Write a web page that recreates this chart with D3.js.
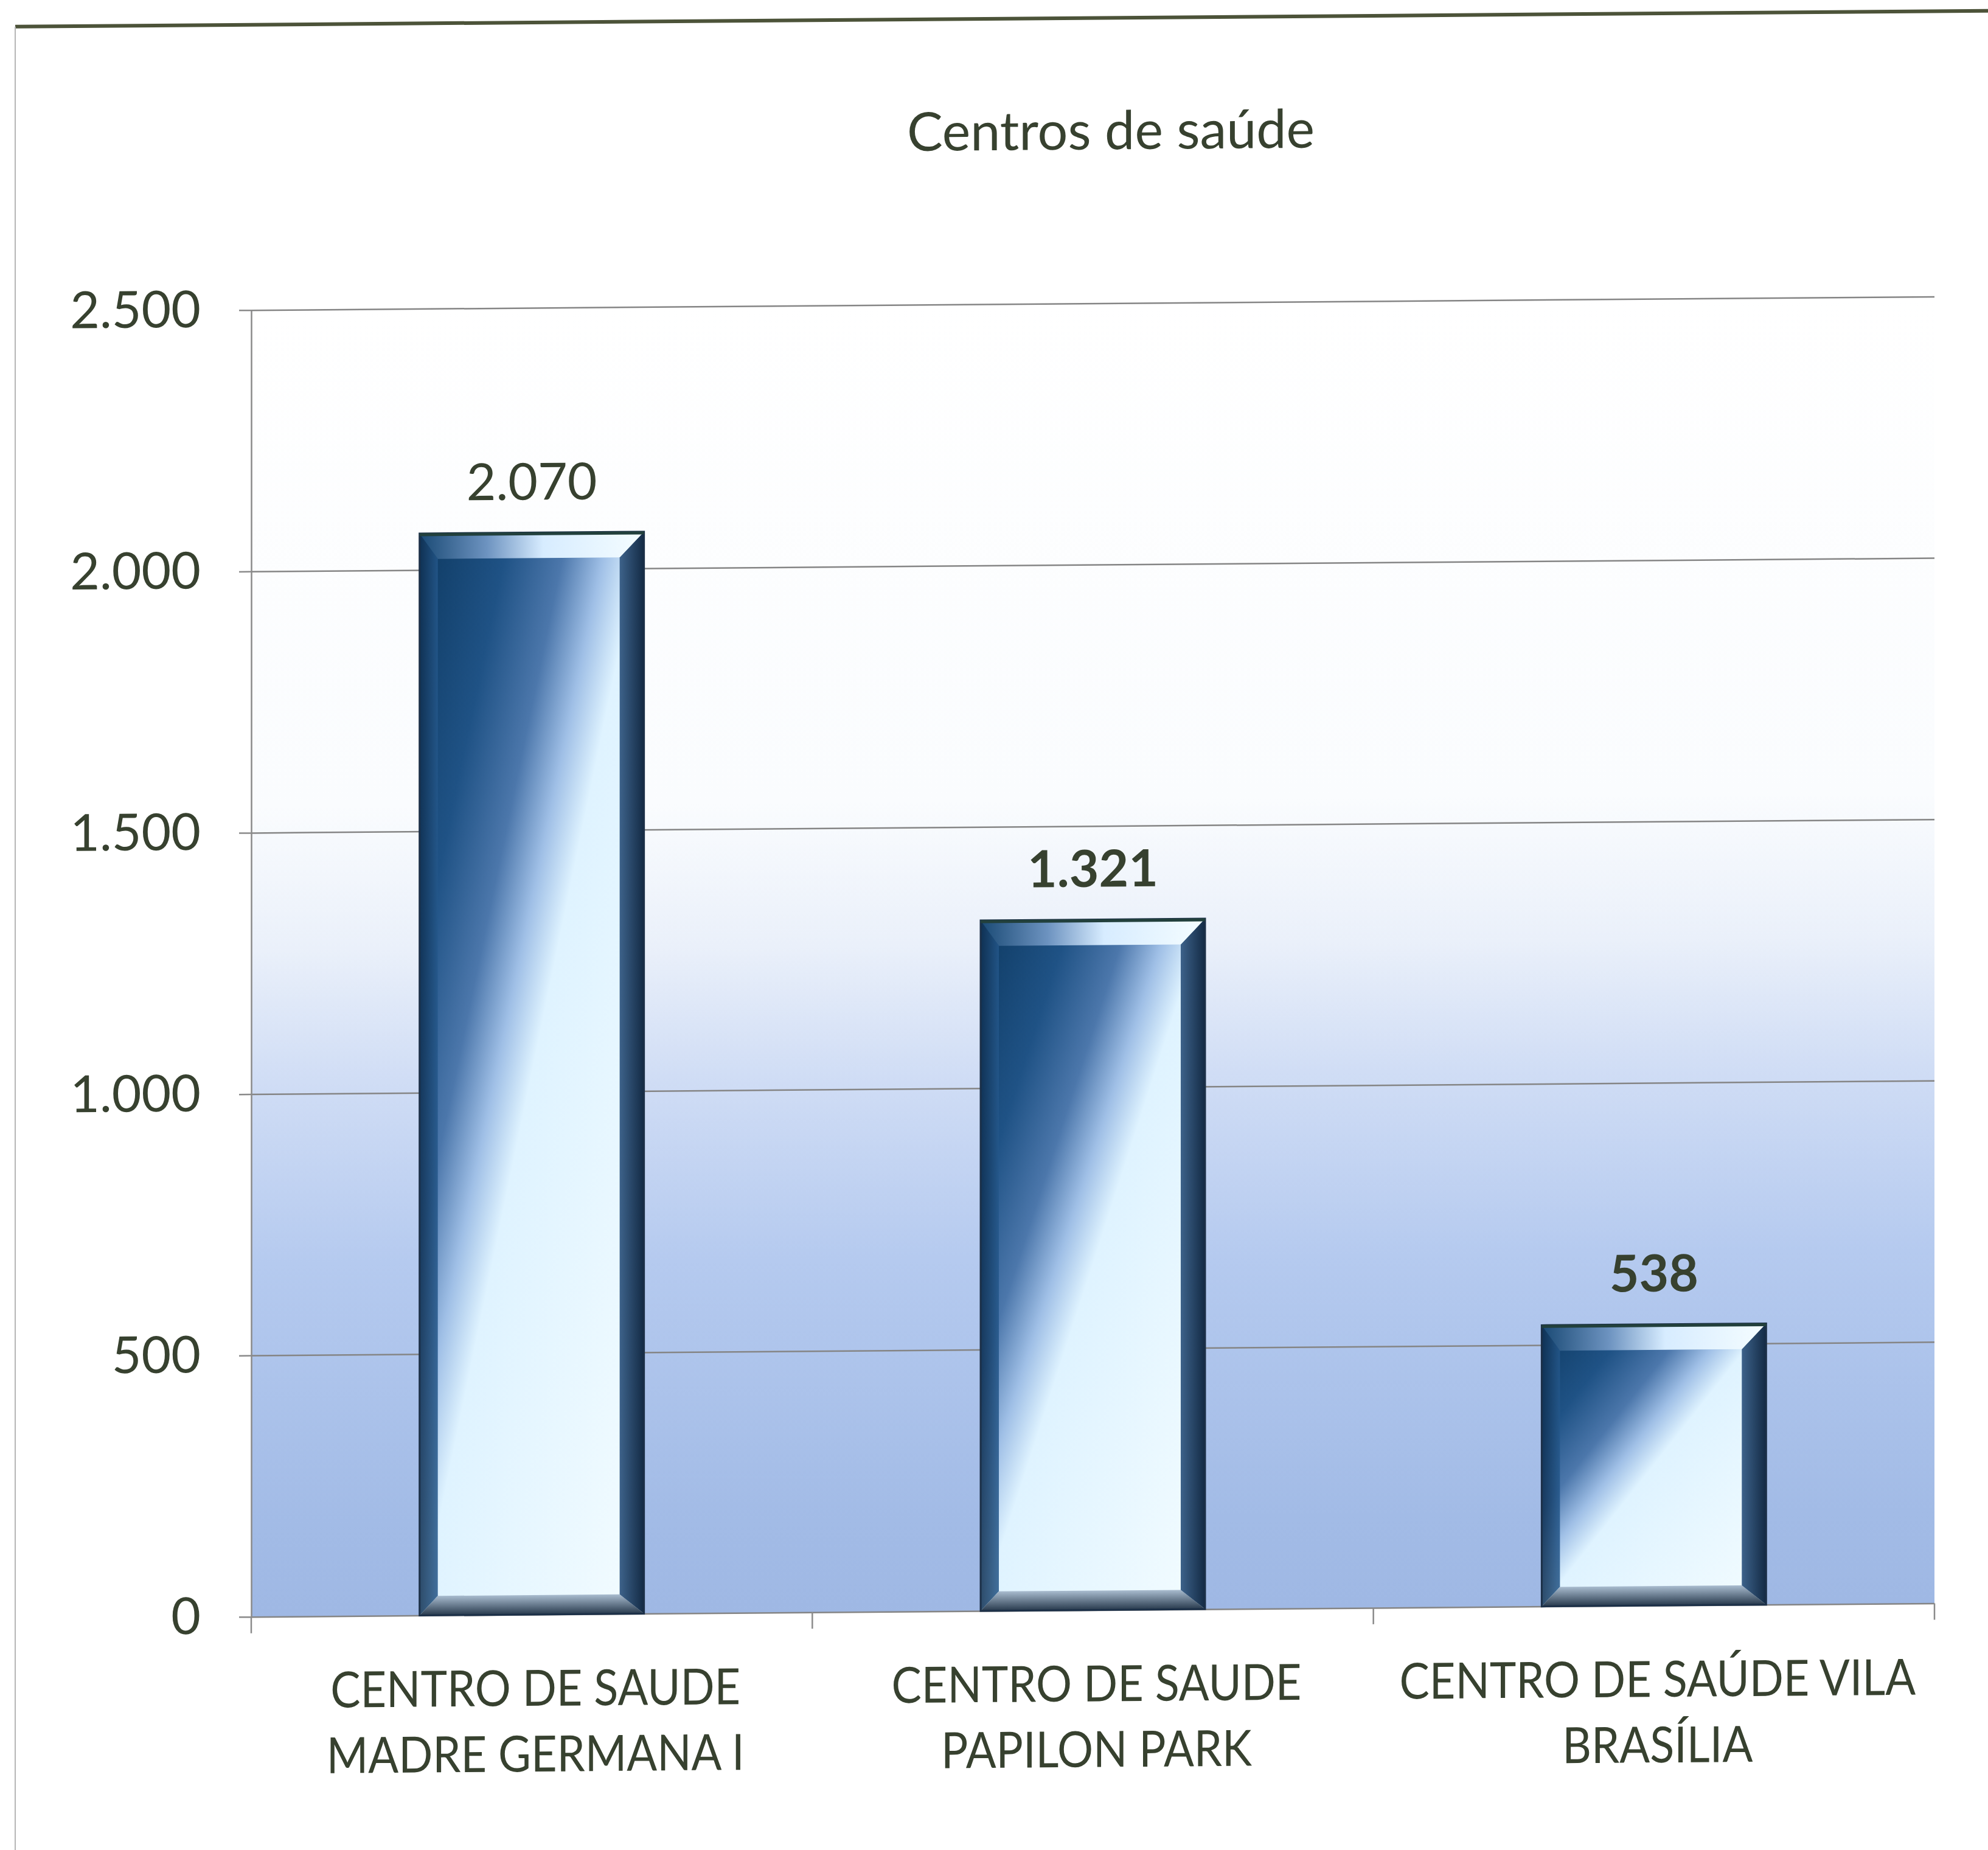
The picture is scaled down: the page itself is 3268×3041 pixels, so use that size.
<!DOCTYPE html>
<html>
<head>
    <meta charset="utf-8">
    <title>Centros de saúde</title>
    <script src="https://d3js.org/d3.v7.min.js"></script>
    <style>
        body { margin: 0; background: #fff; }
        text { font-family: Lato, "Open Sans", sans-serif; fill: #37412f; }
        .title { font-size: 88px; }
        .tick text { font-size: 84px; fill: #37412f; }
        .cat { font-size: 82px; }
        .val { font-size: 84px; }
    </style>
</head>
<body>
<script>
    // data
    var categories = [
        ["CENTRO DE SAUDE", "MADRE GERMANA I"],
        ["CENTRO DE SAUDE", "PAPILON PARK"],
        ["CENTRO DE SAÚDE VILA", "BRASÍLIA"]
    ];
    var values = [2070, 1321, 538];
    var yTicks = [0, 500, 1000, 1500, 2000, 2500];
    var labelWeights = ["normal", "bold", "bold"];

    var width = 3268, height = 3041;
    var plotLeft = 413, plotRight = 3180, plotTop = 500, plotBottom = 2648;

    var locale = d3.formatLocale({decimal: ",", thousands: ".", grouping: [3], currency: ["R$", ""]});
    var fmt = locale.format(",d");

    var svg = d3.select("body").append("svg")
        .attr("width", width).attr("height", height)
        .style("display", "block").style("background", "#fff");

    var defs = svg.append("defs");
    function grad(id, x1, y1, x2, y2, stops) {
        var g = defs.append("linearGradient").attr("id", id)
            .attr("x1", x1).attr("y1", y1).attr("x2", x2).attr("y2", y2);
        stops.forEach(function(s) {
            g.append("stop").attr("offset", s[0]).attr("stop-color", s[1]);
        });
    }
    grad("bgGrad", 0, 0, 0, 1, [[0, "#ffffff"], [0.38, "#fafcfe"], [0.49, "#eaf0fa"], [0.59, "#d0ddf5"], [0.73, "#b5caef"], [0.93, "#a2bbe6"], [1, "#9fb8e4"]]);
    grad("barGrad", 0, 0, 1, 1, [[0, "#0e3a62"], [0.2, "#1f5285"], [0.33, "#4c77ab"], [0.42, "#9fbfe6"], [0.5, "#dff3ff"], [1, "#f3fcff"]]);
    grad("topBevel", 0, 0, 1, 0, [[0, "#1a4a75"], [0.3, "#6d93c0"], [0.55, "#d7ecff"], [1, "#f5fdff"]]);
    grad("rightBevel", 1, 0, 0, 0, [[0, "#132a44"], [1, "#3d628a"]]);
    grad("bottomBevel", 0, 0, 0, 1, [[0, "#a9bccf"], [1, "#27394c"]]);
    grad("leftBevel", 0, 0, 1, 0, [[0, "#0f2f50"], [1, "#24578a"]]);

    // the scan is slightly skewed
    var chart = svg.append("g").attr("transform", "translate(0,13) skewY(-0.46)");

    // chart area border
    chart.append("line").attr("x1", 25).attr("x2", width + 40).attr("y1", 31).attr("y2", 31)
        .attr("stroke", "#4c5339").attr("stroke-width", 6);
    chart.append("line").attr("x1", 25).attr("x2", 25).attr("y1", 31).attr("y2", height + 40)
        .attr("stroke", "#b5b5b5").attr("stroke-width", 2);

    var x = d3.scaleBand().domain(d3.range(values.length)).range([plotLeft, plotRight])
        .paddingInner(0.6).paddingOuter(0.3);
    var y = d3.scaleLinear().domain([0, 2500]).range([plotBottom, plotTop]);

    // plot area fill
    chart.append("rect").attr("x", plotLeft).attr("y", plotTop)
        .attr("width", plotRight - plotLeft).attr("height", plotBottom - plotTop)
        .attr("fill", "url(#bgGrad)");

    // gridlines
    var grid = chart.append("g").attr("transform", "translate(" + plotLeft + ",0)")
        .call(d3.axisLeft(y).tickValues(yTicks).tickSize(-(plotRight - plotLeft)).tickFormat(""));
    grid.select(".domain").remove();
    grid.selectAll("line").attr("stroke", "#858585").attr("stroke-width", 2.5);

    // value axis
    var yAxis = chart.append("g").attr("transform", "translate(" + plotLeft + ",0)")
        .call(d3.axisLeft(y).tickValues(yTicks).tickSizeInner(20).tickSizeOuter(0)
            .tickPadding(63).tickFormat(fmt));
    yAxis.select(".domain").attr("stroke", "#8a8a8a").attr("stroke-width", 2.5);
    yAxis.selectAll(".tick line").attr("stroke", "#8a8a8a").attr("stroke-width", 2.5);
    yAxis.attr("font-family", null).attr("font-size", null);

    // category axis ticks between categories
    chart.append("g").selectAll("line").data(d3.range(values.length + 1)).enter().append("line")
        .attr("x1", function(i) { return plotLeft + i * x.step(); })
        .attr("x2", function(i) { return plotLeft + i * x.step(); })
        .attr("y1", y(0)).attr("y2", y(0) + 27)
        .attr("stroke", "#8a8a8a").attr("stroke-width", 2.5);

    // bars with bevel
    var bars = chart.append("g").selectAll("g").data(values).enter().append("g");
    var bt = 42, br = 40, bb = 32, bl = 30;
    function pts(a) { return a.map(function(p) { return p.join(","); }).join(" "); }

    bars.each(function(v, i) {
        var g = d3.select(this);
        var x0 = x(i), x1 = x(i) + x.bandwidth(), y0 = y(v), y1 = y(0);
        g.append("rect").attr("x", x0).attr("y", y0)
            .attr("width", x1 - x0).attr("height", y1 - y0)
            .attr("fill", "url(#barGrad)");
        g.append("polygon").attr("points", pts([[x0, y0], [x0 + bl, y0 + bt], [x0 + bl, y1 - bb], [x0, y1]]))
            .attr("fill", "url(#leftBevel)").attr("opacity", 0.85);
        g.append("polygon").attr("points", pts([[x0, y1], [x1, y1], [x1 - br, y1 - bb], [x0 + bl, y1 - bb]]))
            .attr("fill", "url(#bottomBevel)");
        g.append("polygon").attr("points", pts([[x1, y0], [x1, y1], [x1 - br, y1 - bb], [x1 - br, y0 + bt]]))
            .attr("fill", "url(#rightBevel)");
        g.append("polygon").attr("points", pts([[x0, y0], [x1, y0], [x1 - br, y0 + bt], [x0 + bl, y0 + bt]]))
            .attr("fill", "url(#topBevel)");
        g.append("rect").attr("x", x0).attr("y", y0)
            .attr("width", x1 - x0).attr("height", y1 - y0)
            .attr("fill", "none").attr("stroke", "#1c3048").attr("stroke-width", 3);
        g.append("line").attr("x1", x0).attr("x2", x1).attr("y1", y0 + 2).attr("y2", y0 + 2)
            .attr("stroke", "#22403c").attr("stroke-width", 5);
    });

    // data labels
    chart.append("g").selectAll("text").data(values).enter().append("text")
        .classed("val", true)
        .attr("x", function(d, i) { return x(i) + x.bandwidth() / 2; })
        .attr("y", function(d) { return y(d) - 54; })
        .attr("text-anchor", "middle")
        .style("font-weight", function(d, i) { return labelWeights[i]; })
        .text(function(d) { return fmt(d); });

    // category labels (Calibri in the original is narrower than Lato)
    var cats = chart.append("g").selectAll("text").data(categories).enter().append("text")
        .classed("cat", true)
        .attr("text-anchor", "middle")
        .attr("transform", function(d, i) {
            return "translate(" + (x(i) + x.bandwidth() / 2 + 6) + "," + (y(0) + 150) + ") scale(0.9,1)";
        });
    cats.each(function(lines) {
        var t = d3.select(this);
        lines.forEach(function(l, k) {
            t.append("tspan").attr("x", 0)
                .attr("dy", k === 0 ? 0 : 108).text(l);
        });
    });

    // title
    chart.append("text").classed("title", true)
        .attr("x", 1826).attr("y", 247).attr("text-anchor", "middle")
        .text("Centros de saúde");
</script>
</body>
</html>
